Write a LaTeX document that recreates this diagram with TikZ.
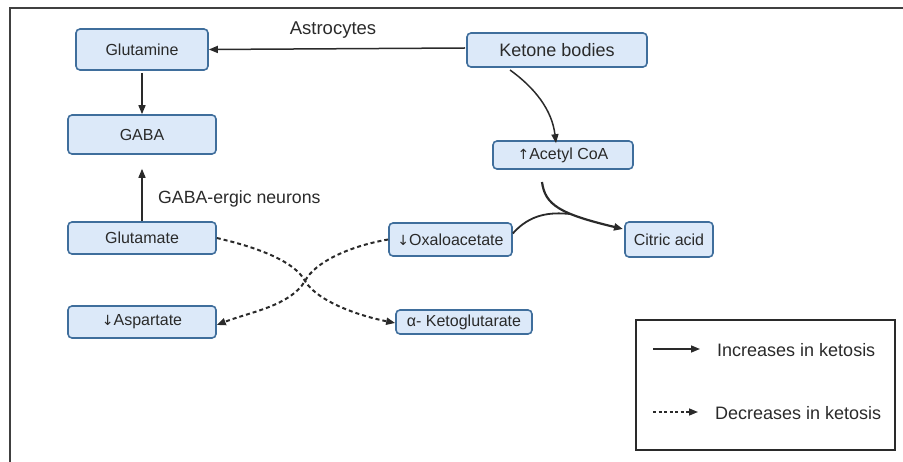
\documentclass[tikz,border=0pt]{standalone}
\usepackage{fontspec}
\setmainfont{Liberation Sans}
\newfontfamily\symfont{DejaVu Sans}
\usetikzlibrary{arrows.meta}
\definecolor{boxfill}{HTML}{DCE9F9}
\definecolor{boxline}{HTML}{3F6E9C}
\definecolor{ink}{HTML}{2A2A2A}
\newcommand{\dn}{{\symfont\fontsize{14}{16}\selectfont ↓}}
\newcommand{\upar}{{\symfont\fontsize{14}{16}\selectfont ↑}}
\begin{document}
\begin{tikzpicture}[x=1pt,y=-1pt,
  bx/.style={draw=boxline,fill=boxfill,line width=1.6pt,rounded corners=4pt,inner sep=0pt,font=\fontsize{16}{18}\selectfont,text=ink},
  sol/.style={draw=ink,line width=1.5pt,-{Triangle[length=9pt,width=7pt]}},
  dsh/.style={draw=ink,line width=2pt,dash pattern=on 4pt off 3pt,-{Triangle[length=9pt,width=7pt]}},
  lbl/.style={font=\fontsize{18}{20}\selectfont,text=ink,inner sep=0pt}]
\useasboundingbox (0,0) rectangle (903,462);
\draw[line width=1.3pt,black!75] (10,462) -- (10,8) -- (903,8);
% boxes
\node[bx,minimum width=132pt,minimum height=41pt] (gln) at (142,49.5) {Glutamine};
\node[bx,minimum width=148pt,minimum height=39pt] (gaba) at (142,134.5) {GABA};
\node[bx,minimum width=148pt,minimum height=32pt] (glu) at (142,238) {Glutamate};
\node[bx,minimum width=148pt,minimum height=32pt] (asp) at (142,322) {\dn Aspartate};
\node[bx,minimum width=180pt,minimum height=34pt,font=\fontsize{18}{20}\selectfont] (ket) at (557,50) {Ketone bodies};
\node[bx,minimum width=140pt,minimum height=28pt] (acoa) at (563,155) {\upar Acetyl CoA};
\node[bx,minimum width=123pt,minimum height=33pt] (oxa) at (450.5,239.5) {\dn Oxaloacetate};
\node[bx,minimum width=88pt,minimum height=35pt] (cit) at (669,239.5) {Citric acid};
\node[bx,minimum width=136pt,minimum height=24pt] (akg) at (464,322) {α- Ketoglutarate};
% labels
\node[lbl,font=\fontsize{18.5}{20}\selectfont] (astro) at (333,30) {Astrocytes};
\node[lbl,anchor=west,font=\fontsize{17.7}{20}\selectfont] (gabaerg) at (158,199) {GABA-ergic neurons};
% solid arrows
\coordinate (kl) at (465,48);
\draw[sol] (kl) -- (gln.east);
\draw[sol] (gln.south) ++(0,2) -- (gaba.north);
\draw[sol] (glu.north) -- ([yshift=-14pt]gaba.south);
\coordinate (k1) at (510,70);
\draw[sol] (k1) .. controls (535,88) and (552,110) .. ([xshift=-7pt,yshift=-3pt]acoa.north);
\coordinate (a1) at (542,182);
\coordinate (ct) at (623,229);
\draw[sol,line width=2.2pt] (a1) .. controls (545,205) and (560,214) .. (ct);
\draw[ink,line width=1.8pt] ([yshift=6pt]oxa.east) .. controls (530,214) and (550,212) .. (570,214);
% dashed arrows
\coordinate (x) at (305,281);
\draw[dsh] (glu.east) .. controls (260,248) and (295,262) .. (x) .. controls (318,302) and (360,316) .. ([yshift=-1pt]akg.west);
\draw[dsh] (oxa.west) .. controls (350,246) and (315,262) .. (x) .. controls (290,306) and (250,312) .. ([yshift=-3pt]asp.east);
% legend
\node[draw=ink,line width=1.5pt,minimum width=259pt,minimum height=130pt,inner sep=0pt] (leg) at (765.5,385) {};
\coordinate (l1a) at (653,349); \coordinate (l1b) at (700,349);
\coordinate (l2a) at (653,412); \coordinate (l2b) at (698,412);
\draw[sol] (l1a) -- (l1b);
\draw[dsh,line width=1.5pt,dash pattern=on 3pt off 2.5pt] (l2a) -- (l2b);
\node[lbl,anchor=west] (inc) at (717,350) {Increases in ketosis};
\node[lbl,anchor=west] (dec) at (715,413) {Decreases in ketosis};
\end{tikzpicture}
\end{document}
